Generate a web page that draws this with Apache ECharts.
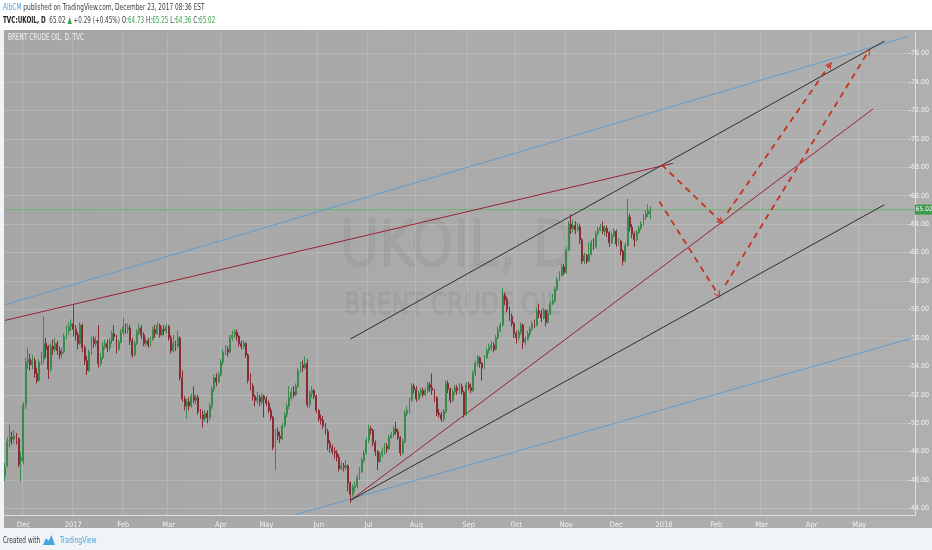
<!DOCTYPE html>
<html>
<head>
<meta charset="utf-8">
<title>UKOIL</title>
<script src="https://cdn.jsdelivr.net/npm/echarts@6/dist/echarts.min.js"></script>
<style>
  html, body { margin: 0; padding: 0; background: #f1f4f7; }
  #chart { width: 932px; height: 550px; }
</style>
</head>
<body>
<div id="chart"></div>
<script>
// daily candles, [open, close, low, high], from 2016-11-21 to 2017-12-22
var candles = [
  [46.3,46.9,45.9,47.2],[47.0,48.7,46.9,49.0],[48.7,49.0,48.3,49.9],[49.0,48.9,48.5,49.4],[48.9,49.1,48.6,49.5],
  [49.1,48.9,48.5,49.3],[48.9,47.1,46.9,49.0],[47.4,47.6,45.9,48.0],[47.3,51.3,47.1,51.5],[51.3,54.3,51.0,54.6],
  [54.3,54.5,53.8,55.3],[54.5,54.1,53.7,54.9],[54.1,54.4,53.8,54.8],[54.4,53.5,53.2,54.6],[53.5,53.0,52.8,53.9],
  [53.0,54.3,52.9,54.5],[54.3,54.5,54.1,55.0],[54.5,55.6,54.2,57.5],[55.6,55.2,54.6,56.0],[55.4,53.8,53.1,55.5],
  [53.8,55.4,53.6,55.6],[55.4,55.2,54.8,55.9],[55.2,55.6,55.0,56.0],[55.6,55.1,54.8,55.8],[55.1,54.8,54.5,55.4],
  [54.9,55.0,54.6,55.3],[55.0,56.1,54.9,56.3],[56.1,56.5,55.9,56.9],[56.5,56.8,56.2,57.1],[56.8,57.0,56.5,57.3],
  [57.0,56.6,56.1,58.3],[56.6,56.2,55.8,56.9],[56.2,55.6,55.2,56.4],[55.6,56.9,55.5,57.1],[56.9,55.3,55.0,57.0],
  [55.3,54.4,54.1,55.5],[54.4,53.7,53.4,54.7],[53.7,55.0,53.6,55.2],[55.0,55.9,54.8,56.1],[55.9,55.6,55.3,56.1],
  [55.6,55.8,55.4,56.1],[55.8,54.2,53.9,56.9],[54.2,54.6,54.0,54.9],[54.6,55.4,54.5,55.7],[55.4,55.6,55.2,55.9],
  [55.6,55.3,55.0,55.9],[55.3,55.8,55.1,56.0],[55.8,56.3,55.6,56.5],[56.3,56.1,55.8,56.9],[56.1,55.2,54.9,56.2],
  [55.2,55.7,55.1,55.9],[55.7,56.4,55.6,56.6],[56.4,56.8,56.2,57.4],[56.8,56.6,56.3,57.0],[56.6,56.7,56.3,57.0],
  [56.7,55.8,55.5,56.9],[55.8,54.8,54.6,56.0],[54.8,55.6,54.7,55.8],[55.6,56.4,55.5,56.6],[56.4,56.7,56.2,57.0],
  [56.7,56.2,55.9,56.9],[56.2,55.6,55.4,56.4],[55.6,55.8,55.4,56.0],[55.8,55.5,55.3,56.0],[55.5,55.9,55.4,56.1],
  [55.9,56.6,55.8,56.8],[56.6,56.3,56.0,56.9],[56.3,56.9,56.2,57.1],[56.9,56.2,56.0,57.0],[56.2,56.6,56.1,56.8],
  [56.6,56.5,56.2,56.9],[56.5,56.8,56.3,57.0],[56.8,56.0,55.8,56.9],[56.0,55.1,54.9,56.2],[55.1,55.6,55.0,56.2],
  [55.6,55.4,55.1,55.8],[55.4,56.0,55.3,56.5],[56.0,53.2,53.0,56.1],[53.2,51.7,51.5,53.7],[51.7,51.2,50.9,51.9],
  [51.2,51.5,50.3,51.7],[51.5,51.2,50.9,51.8],[51.2,51.9,51.1,52.1],[51.9,51.6,51.4,52.6],[51.6,51.8,51.3,52.0],
  [51.8,50.8,50.6,52.0],[50.8,50.6,50.3,51.0],[50.6,50.3,49.7,50.9],[50.3,50.7,50.1,50.9],[50.7,50.4,50.0,50.9],
  [50.4,51.2,50.2,51.4],[51.2,52.4,51.0,52.6],[52.4,53.2,52.2,53.4],[53.2,52.9,52.6,53.5],[52.9,53.4,52.8,53.6],
  [53.4,54.3,53.3,54.5],[54.3,55.0,54.1,55.2],[55.0,55.2,54.8,55.5],[55.2,55.0,54.7,55.4],[55.0,56.0,54.9,56.2],
  [56.0,56.2,55.8,56.5],[56.2,56.4,56.0,56.6],[56.4,56.1,55.8,56.6],[56.1,55.6,55.4,56.2],[55.6,55.4,55.2,55.8],
  [55.4,55.6,55.2,55.8],[55.6,54.8,54.6,55.7],[54.8,53.0,52.8,54.9],[53.0,52.6,52.3,53.5],[52.6,51.9,51.6,52.8],
  [51.9,51.6,51.2,52.0],[51.6,51.8,51.4,52.2],[51.8,51.5,51.2,52.0],[51.5,51.9,51.3,52.1],[51.9,51.7,50.4,52.0],
  [51.7,51.4,51.2,51.9],[51.4,50.9,50.7,51.6],[50.9,50.4,50.2,51.1],[50.4,48.3,48.1,50.5],[48.3,49.4,46.7,49.6],
  [49.4,49.1,48.8,49.7],[49.1,48.9,48.6,49.4],[48.9,49.8,48.8,50.0],[49.8,50.6,49.7,50.8],[50.6,51.2,50.4,51.4],
  [51.2,51.8,51.0,52.6],[51.8,52.2,51.6,52.5],[52.2,52.0,51.8,52.6],[52.0,52.6,51.9,52.8],[52.6,53.7,52.5,53.9],
  [53.7,54.1,53.5,54.3],[54.1,53.9,53.6,54.4],[53.9,54.2,53.8,54.7],[54.2,51.3,51.1,54.5],[51.3,52.1,51.1,52.3],
  [52.1,52.3,51.8,52.6],[52.3,51.9,51.7,52.4],[51.9,50.9,50.7,52.0],[50.9,50.3,50.1,51.0],[50.3,50.2,49.9,50.6],
  [50.2,49.8,49.6,50.5],[49.8,49.4,49.2,50.0],[49.4,48.6,48.1,49.6],[48.6,48.3,47.9,48.8],[48.3,48.0,47.8,48.5],
  [48.0,47.9,47.5,48.3],[47.9,47.6,47.3,48.1],[47.6,46.8,46.6,47.8],[46.8,47.0,46.7,47.3],[47.0,46.9,46.6,47.2],
  [46.9,47.0,46.7,47.4],[47.0,45.8,45.2,47.1],[45.8,45.0,44.4,45.9],[45.0,45.5,44.8,45.7],[45.5,45.6,45.2,45.9],
  [45.6,46.2,45.4,46.4],[46.2,46.6,46.0,46.9],[46.6,47.4,46.5,47.6],[47.4,47.9,47.2,48.1],[47.9,48.8,47.8,49.0],
  [48.8,49.6,48.6,49.9],[49.6,49.5,49.2,49.8],[49.5,48.6,48.4,49.6],[48.6,48.0,47.7,48.8],[48.0,47.3,46.7,48.1],
  [47.3,47.8,47.2,48.0],[47.8,48.0,47.6,48.3],[48.0,48.4,47.8,48.6],[48.4,48.2,47.9,48.6],[48.2,49.0,48.1,49.2],
  [49.0,49.2,48.9,49.4],[49.2,49.6,49.0,49.8],[49.6,49.4,49.2,50.1],[49.4,49.0,48.8,49.6],[49.0,47.9,47.7,49.1],
  [47.9,48.7,47.8,48.9],[48.7,50.7,48.6,50.9],[50.7,50.9,50.5,51.2],[50.9,51.6,50.7,51.8],[51.6,52.6,51.5,52.8],
  [52.6,52.4,52.1,52.8],[52.4,51.7,51.5,52.6],[51.7,52.1,51.6,52.3],[52.1,52.3,51.9,52.5],[52.3,52.0,51.8,52.5],
  [52.0,52.3,51.9,52.5],[52.3,52.7,52.1,52.9],[52.7,52.5,52.2,52.9],[52.5,52.3,52.0,53.5],[52.3,51.8,51.5,52.4],
  [51.8,50.7,50.5,51.9],[50.7,50.6,50.4,51.0],[50.6,50.3,50.1,50.8],[50.3,50.8,50.1,51.0],[50.8,52.8,50.7,53.0],
  [52.8,52.4,52.1,53.0],[52.4,51.6,51.4,52.5],[51.6,52.2,51.5,52.4],[52.2,52.5,52.0,52.7],[52.5,52.3,52.0,52.7],
  [52.3,52.6,52.1,52.8],[52.6,52.2,52.0,52.8],[52.2,50.6,50.4,52.3],[50.6,52.7,50.5,52.9],[52.7,52.5,52.3,52.9],
  [52.5,52.3,52.1,52.8],[52.3,53.5,52.2,53.7],[53.5,54.2,53.3,54.4],[54.2,54.6,54.0,54.8],[54.6,54.2,53.9,54.7],
  [54.2,53.9,53.0,54.3],[53.9,54.6,53.8,54.8],[54.6,55.1,54.5,55.3],[55.1,55.3,54.9,55.6],[55.3,55.5,55.1,55.8],
  [55.5,55.2,55.0,55.7],[55.2,56.0,55.1,56.2],[56.0,56.5,55.9,56.8],[56.5,56.9,56.4,57.1],[56.9,59.0,56.8,59.5],
  [59.0,58.7,58.3,59.2],[58.7,58.0,57.8,58.9],[58.0,57.5,57.2,58.2],[57.5,57.0,56.8,57.7],[57.0,56.3,56.0,57.1],
  [56.3,56.0,55.6,56.5],[56.0,56.4,55.8,56.6],[56.4,56.9,56.2,57.1],[56.9,55.7,55.2,57.0],[55.7,55.9,55.5,56.1],
  [55.9,56.3,55.8,56.5],[56.3,56.6,56.1,56.8],[56.6,57.0,56.5,57.2],[57.0,56.9,56.7,57.3],[56.9,57.9,56.8,58.1],
  [57.9,57.7,57.4,58.4],[57.7,57.4,57.1,58.0],[57.4,57.9,57.3,58.1],[57.9,57.1,56.8,58.0],[57.1,57.7,57.0,58.0],
  [57.7,58.4,57.6,58.6],[58.4,58.6,58.3,59.1],[58.6,59.4,58.5,59.6],[59.4,60.1,59.3,60.3],[60.1,60.4,60.0,60.7],
  [60.4,61.0,60.3,61.2],[61.0,60.6,60.4,61.2],[60.6,62.2,60.5,62.4],[62.2,64.0,62.1,64.2],[64.0,63.7,63.3,64.7],
  [63.7,63.9,63.4,64.3],[63.9,63.6,63.3,64.2],[63.6,63.8,63.5,64.1],[63.8,62.9,62.6,64.0],[62.9,61.4,61.2,63.0],
  [61.4,61.8,61.2,62.0],[61.8,61.4,61.2,61.9],[61.4,61.9,61.3,62.7],[61.9,62.7,61.8,62.9],[62.7,62.4,62.2,63.0],
  [62.4,63.3,62.3,63.5],[63.3,63.6,63.2,63.8],[63.6,63.8,63.5,64.0],[63.8,63.5,63.3,64.2],[63.5,63.7,63.2,63.9],
  [63.7,63.4,63.1,63.9],[63.4,62.7,62.4,63.5],[62.7,63.2,62.6,63.4],[63.2,63.5,63.1,63.7],[63.5,62.6,62.4,63.6],
  [62.6,62.8,62.5,63.0],[62.8,62.1,61.8,62.9],[62.1,61.4,61.1,62.2],[61.4,62.5,61.3,62.7],[62.5,64.5,62.4,65.8],
  [64.5,63.8,63.5,64.7],[63.8,63.3,63.0,64.0],[63.3,62.9,62.4,63.5],[62.9,63.4,62.8,63.6],[63.4,63.7,63.3,63.9],
  [63.7,64.0,63.6,64.2],[64.0,64.5,63.9,64.7],[64.5,64.7,64.3,65.0],[64.7,64.9,64.5,65.4],[64.73,65.02,64.36,65.25]
];

var monthNames = ['Jan','Feb','Mar','Apr','May','Jun','Jul','Aug','Sep','Oct','Nov','Dec'];
var priceTicks = { min: 44, max: 76, step: 2 };
var lastPrice = 65.02;

// trend lines as [categoryIndex, price] pairs
var upperBlue = [[0, 58.33], [397, 77.18]];
var lowerBlue = [[128, 43.57], [400, 56.02]];
var upperRed = [[0, 57.23], [294, 68.28]];
var lowerRed = [[152, 44.57], [382, 72.10]];
var upperBlack = [[152, 55.92], [387, 76.87]];
var lowerBlack = [[152, 44.57], [387, 65.36]];
var projections = [
  [[289, 68.18], [315, 64.18]],
  [[288, 65.59], [314, 59.02]],
  [[318, 64.82], [363, 75.22]],
  [[317, 59.72], [380, 76.16]]
];

// trading-day axis, weekdays only, runs on past the last bar into 2018
var dates = [];
for (var d = new Date(Date.UTC(2016, 10, 21)); d.getTime() <= Date.UTC(2018, 5, 4); d.setUTCDate(d.getUTCDate() + 1)) {
  var wd = d.getUTCDay();
  if (wd === 0 || wd === 6) continue;
  dates.push(d.toISOString().slice(0, 10));
}
var priceLine = [[0, lastPrice], [dates.length - 1, lastPrice]];

function monthStart(i) {
  return i > 0 && i < 396 && dates[i].slice(5, 7) !== dates[i - 1].slice(5, 7);
}

var FONT = "'Liberation Sans Narrow', 'DejaVu Sans Condensed', 'Liberation Sans', sans-serif";
var chevron = 'path://M0,10 L5,0 L10,10 L8.4,10 L5,3.2 L1.6,10 Z';
var dash = { color: '#c5321f', width: 1.8, type: [6, 5], opacity: 1 };

function trend(data, color) {
  return {
    type: 'line', xAxisIndex: 0, yAxisIndex: 0, data: data,
    symbol: 'none', silent: true, z: 3,
    lineStyle: { color: color, width: 1 }
  };
}

var markData = projections.map(function (p) {
  return [
    { coord: p[0], symbol: 'none', lineStyle: dash, label: { show: false } },
    { coord: p[1], symbol: chevron, symbolSize: [7, 7], itemStyle: { color: '#c5321f' } }
  ];
});

var chart = echarts.init(document.getElementById('chart'));
chart.setOption({
  animation: false,
  backgroundColor: '#f1f4f7',
  graphic: [
    { type: 'rect', z: -2, shape: { x: 0, y: 0, width: 932, height: 30 }, style: { fill: '#ffffff' } },
    { type: 'rect', z: -2, shape: { x: 4, y: 30, width: 928, height: 498 },
      style: { fill: { type: 'linear', x: 0, y: 0, x2: 1, y2: 0,
        colorStops: [{ offset: 0, color: '#a6a6a6' }, { offset: 1, color: '#afafaf' }] } } },
    { type: 'text', z: -1, x: 457, y: 249, scaleX: 0.93,
      style: { text: 'UKOIL, D', font: '64px ' + FONT, fill: 'rgba(0,0,0,0.045)',
        stroke: 'rgba(0,0,0,0.045)', lineWidth: 1, align: 'center', verticalAlign: 'middle' } },
    { type: 'text', z: -1, x: 452, y: 306, scaleX: 0.87,
      style: { text: 'BRENT CRUDE OIL', font: '30px ' + FONT, fill: 'rgba(0,0,0,0.045)',
        stroke: 'rgba(0,0,0,0.045)', lineWidth: 1, align: 'center', verticalAlign: 'middle' } },
    { type: 'text', z: 10, x: 3, y: 8, scaleX: 0.72,
      style: { text: '{u|AlbCM} published on TradingView.com, December 23, 2017 08:36 EST',
        font: '9px ' + FONT, fill: '#3c3c3c', verticalAlign: 'middle',
        rich: { u: { fill: '#4aa3df', fontSize: 9, fontFamily: FONT } } } },
    { type: 'text', z: 10, x: 3, y: 21, scaleX: 0.7,
      style: { text: '{b|TVC:UKOIL, D}  65.02 {g|\u25B2} +0.29 (+0.45%) O:{g|64.73} H:{g|65.25} L:{g|64.36} C:{g|65.02}',
        font: '9px ' + FONT, fill: '#3c3c3c', verticalAlign: 'middle',
        rich: {
          b: { fill: '#222222', fontWeight: 'bold', fontSize: 9, fontFamily: FONT },
          g: { fill: '#3aa34e', fontSize: 9, fontFamily: FONT }
        } } },
    { type: 'text', z: 10, x: 8, y: 38, scaleX: 0.8,
      style: { text: 'BRENT CRUDE OIL, D, TVC', font: '8px ' + FONT, fill: '#f2f2f2', verticalAlign: 'middle' } },
    { type: 'text', z: 10, x: 3, y: 541, scaleX: 0.72,
      style: { text: 'Created with', font: '9px ' + FONT, fill: '#333333', verticalAlign: 'middle' } },
    { type: 'polygon', z: 10,
      shape: { points: [[43, 545], [46, 538], [48.5, 541], [51.5, 535], [55, 545]] },
      style: { fill: '#45a6de' } },
    { type: 'text', z: 10, x: 60, y: 541, scaleX: 0.75,
      style: { text: 'TradingView', font: '9px ' + FONT, fill: '#45a6de', verticalAlign: 'middle' } }
  ],
  grid: [
    { left: 4, right: 17, top: 32.2, bottom: 34.4 },
    { left: 4, right: 17, top: 53.5, bottom: 41.5 }
  ],
  xAxis: [
    {
      type: 'category', gridIndex: 0, data: dates, boundaryGap: true,
      axisLine: { show: true, lineStyle: { color: '#dedede', width: 1 } },
      axisTick: { show: false },
      axisLabel: {
        interval: function (i) { return monthStart(i); },
        formatter: function (v) {
          var m = +v.slice(5, 7);
          return m === 1 ? v.slice(0, 4) : monthNames[m - 1];
        },
        color: '#f2f2f2', fontSize: 7.5, fontFamily: FONT, margin: 5
      },
      splitLine: {
        show: true, interval: function (i) { return monthStart(i); },
        lineStyle: { color: 'rgba(255,255,255,0.16)', width: 1 }
      }
    },
    { type: 'category', gridIndex: 1, data: dates, boundaryGap: true, show: false }
  ],
  yAxis: [
    {
      type: 'value', gridIndex: 0, position: 'right', min: 43.5, max: 77.5, interval: 0.5,
      axisLine: { show: true, lineStyle: { color: '#dedede', width: 1 } },
      axisTick: { show: false }, axisLabel: { show: false }, splitLine: { show: false }
    },
    {
      type: 'value', gridIndex: 1, position: 'right',
      min: priceTicks.min, max: priceTicks.max, interval: priceTicks.step,
      axisLine: { show: false },
      axisTick: { show: true, length: 2, lineStyle: { color: '#e6e6e6' } },
      axisLabel: {
        formatter: function (v) { return v.toFixed(2); },
        color: '#f2f2f2', fontSize: 7, fontFamily: FONT, margin: 2
      },
      splitLine: { show: true, lineStyle: { color: 'rgba(255,255,255,0.17)', width: 1 } }
    }
  ],
  series: [
    {
      type: 'line', xAxisIndex: 0, yAxisIndex: 0, data: priceLine,
      symbol: 'none', silent: true, z: 2,
      lineStyle: { color: '#62b66d', width: 1, opacity: 0.9 },
      endLabel: {
        show: true, distance: 1, formatter: lastPrice.toFixed(2),
        backgroundColor: '#3b9c4b', color: '#ffffff', padding: [2, 1, 1, 1],
        fontSize: 6.5, fontFamily: FONT
      }
    },
    {
      type: 'candlestick', xAxisIndex: 0, yAxisIndex: 0, data: candles,
      barWidth: '62%', z: 4,
      itemStyle: {
        color: '#3b8a4d', color0: '#8a2a34',
        borderColor: '#3b8a4d', borderColor0: '#8a2a34', borderWidth: 1
      },
      markLine: { silent: true, symbol: ['none', 'none'], animation: false, data: markData }
    },
    trend(upperBlue, '#5f9dd2'),
    trend(lowerBlue, '#5f9dd2'),
    trend(upperRed, '#9a2234'),
    trend(lowerRed, '#9a2234'),
    trend(upperBlack, '#2e2e2e'),
    trend(lowerBlack, '#2e2e2e')
  ]
});
</script>
</body>
</html>
